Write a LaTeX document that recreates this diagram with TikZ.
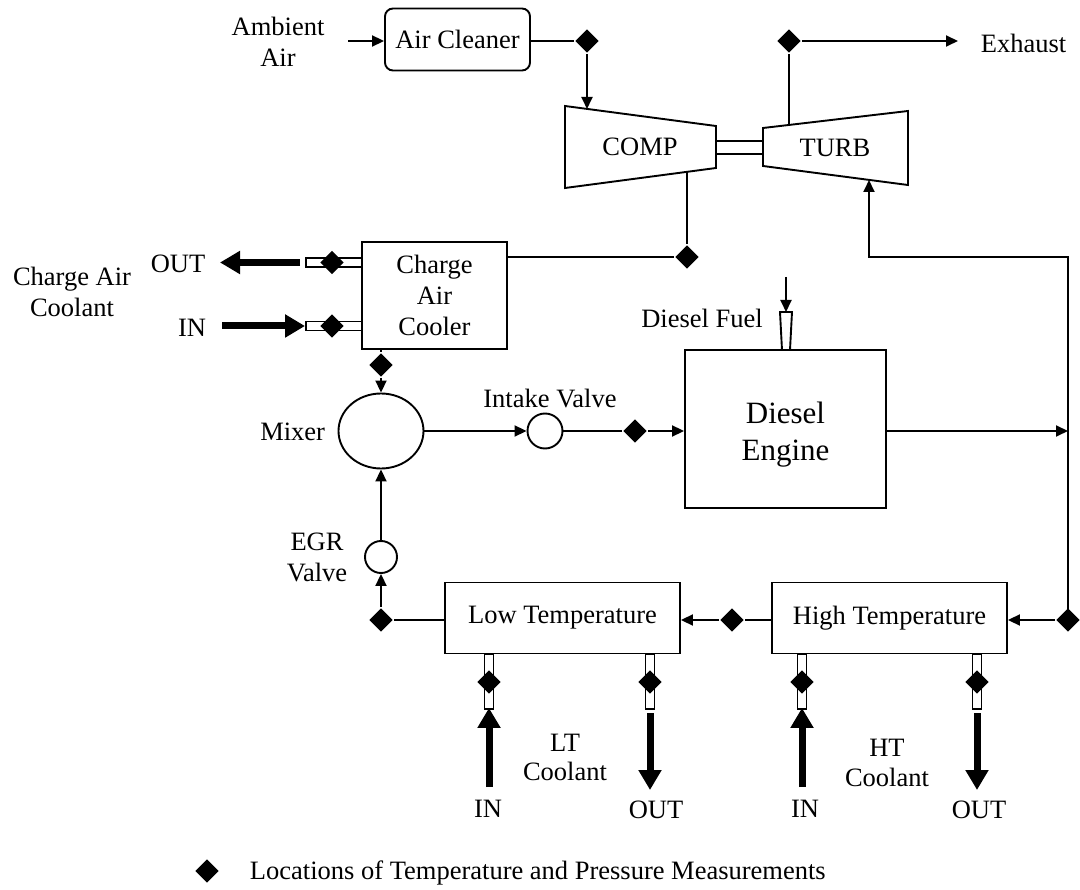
\documentclass[tikz,border=0pt]{standalone}
\usepackage{fontspec}
\setmainfont{Liberation Serif}
\usetikzlibrary{arrows.meta,shapes.geometric}
\begin{document}
\begin{tikzpicture}[x=1pt,y=-1pt,line width=1.9pt,
  lbl/.style={font=\fontsize{26.5}{31}\selectfont, align=center, inner sep=0pt},
  blk/.style={draw, inner sep=0pt, font=\fontsize{26.5}{31}\selectfont, align=center},
  meas/.style={diamond, fill=black, draw=none, inner sep=0pt, minimum size=24pt},
  flow/.style={-{Triangle[length=12pt,width=11pt]}},
  thickarrow/.style={line width=7pt, -{Triangle[length=20pt,width=22pt]}},
  hport/.style={draw, fill=white, minimum width=56pt, minimum height=9pt, inner sep=0pt},
  vport/.style={draw, fill=white, minimum width=9pt, minimum height=55pt, inner sep=0pt},
  valve/.style={circle, draw, inner sep=0pt}
]
\useasboundingbox (0,0) rectangle (1080,890);

% ---- air intake ----
\node[lbl] (amb) at (278,42) {Ambient\\Air};
\node[blk, rounded corners=8pt, minimum width=145pt, minimum height=62pt] (cleaner) at (457.5,39.5) {Air Cleaner};
\coordinate (ambIn) at (348,41);
\draw[flow] (ambIn) -- (ambIn -| cleaner.west);
\node[meas] (d1) at (587,41) {};
\draw (cleaner.east |- d1) -- (d1);
\coordinate (compIn) at (587,109);
\draw[flow] (d1) -- (compIn);

% ---- turbocharger ----
\draw (565,106) -- (716,126) -- (716,168) -- (565,188) -- cycle;
\node[lbl] (comp) at (640,147) {COMP};
\draw (763,128) -- (908,111) -- (908,185) -- (763,166) -- cycle;
\node[lbl] (turb) at (835,148) {TURB};
\draw (716,141) -- (763,141) (716,154) -- (763,154);

% turbine outlet
\coordinate (turbOut) at (789,125);
\node[meas] (d2) at (789,41) {};
\draw (turbOut) -- (d2);
\coordinate (exhEnd) at (958,41);
\draw[flow] (d2) -- (exhEnd);
\node[lbl, anchor=west] (exh) at (980,43) {Exhaust};

% ---- charge air cooler ----
\node[blk, minimum width=145pt, minimum height=107pt] (cac) at (434.5,295.5) {Charge\\Air\\Cooler};
\coordinate (compOut) at (687,172);
\node[meas] (d3) at (687,257) {};
\draw (compOut) -- (d3);
\draw (d3) -- (cac.east |- d3);

\node[hport] (pOut) at (334,262.5) {};
\node[hport] (pIn) at (334,326) {};
\node[meas] (d4) at (332,262.5) {};
\node[meas] (d5) at (332,326) {};
\coordinate (cOutS) at (300,262.5);
\coordinate (cOutE) at (220,262.5);
\draw[thickarrow] (cOutS) -- (cOutE);
\coordinate (cInS) at (222,326);
\draw[thickarrow] (cInS) -- (pIn.west);
\node[lbl] (outL) at (178,264) {OUT};
\node[lbl] (inL) at (192,328) {IN};
\node[lbl] (cacL) at (72,292) {Charge Air\\Coolant};

% ---- mixer and intake ----
\node[ellipse, draw, minimum width=85pt, minimum height=75pt, inner sep=0pt] (mixer) at (381,431) {};
\node[lbl, anchor=east] (mixL) at (326,432) {Mixer};
\node[meas] (d6) at (381,365) {};
\draw (cac.south -| d6) -- (d6);
\draw[flow] (d6) -- (mixer.north);

\node[valve, minimum size=35pt] (iv) at (545,431) {};
\node[lbl] (ivL) at (550,399) {Intake Valve};
\draw[flow] (mixer.east) -- (iv.west);
\node[meas] (d7) at (635,431) {};
\draw (iv.east) -- (d7);

% ---- engine ----
\node[blk, minimum width=201pt, minimum height=158pt] (eng) at (785.5,429) {};
\node[font=\fontsize{31}{37}\selectfont, align=center, inner sep=0pt] (engL) at (785.5,435) {Diesel\\Engine};
\draw[flow] (d7) -- (d7 -| eng.west);

\draw (780,312) -- (792,312) -- (790,350) -- (782,350) -- cycle;
\coordinate (inj) at (786,312);
\coordinate (fuelIn) at (786,277);
\draw[flow] (fuelIn) -- (inj);
\node[lbl] (fuelL) at (702,318) {Diesel Fuel};

% ---- exhaust loop ----
\coordinate (rj) at (1068,431);
\draw[flow] (eng.east |- rj) -- (rj);
\node[meas] (d8) at (1068,620) {};
\coordinate (rt) at (1068,257);
\coordinate (tb) at (869,257);
\coordinate (turbIn) at (869,180);
\draw[flow] (d8.center) -- (rt) -- (tb) -- (turbIn);

% ---- EGR coolers ----
\node[blk, minimum width=235pt, minimum height=71pt] (lt) at (562.5,618) {Low Temperature};
\node[blk, minimum width=235pt, minimum height=71pt] (ht) at (889.5,618) {High Temperature};
\node[meas] (d9) at (732,620) {};
\draw (ht.west |- d9) -- (d9);
\draw[flow] (d9) -- (lt.east |- d9);
\draw[flow] (d8) -- (ht.east |- d8);

\node[meas] (d10) at (381,620) {};
\draw (lt.west |- d10) -- (d10);
\node[valve, minimum size=32pt] (egr) at (381,557) {};
\draw[flow] (d10) -- (egr.south);
\draw[flow] (egr.north) -- (mixer.south);
\node[lbl] (egrL) at (317,557) {EGR\\Valve};

% ---- coolant ports ----
\node[vport] (pLTin) at (489,681.5) {};
\node[vport] (pLTout) at (650,681.5) {};
\node[vport] (pHTin) at (802,681.5) {};
\node[vport] (pHTout) at (977,681.5) {};
\node[meas] (dLTin) at (489,682) {};
\node[meas] (dLTout) at (650,682) {};
\node[meas] (dHTin) at (802,682) {};
\node[meas] (dHTout) at (977,682) {};

\coordinate (aLTin) at (489,787);
\coordinate (aHTin) at (802,787);
\draw[thickarrow] (aLTin) -- ([yshift=2pt]pLTin.south);
\draw[thickarrow] (aHTin) -- ([yshift=2pt]pHTin.south);
\coordinate (aLTo1) at (650,713);
\coordinate (aLTo2) at (650,790);
\coordinate (aHTo1) at (977,713);
\coordinate (aHTo2) at (977,790);
\draw[thickarrow] (aLTo1) -- (aLTo2);
\draw[thickarrow] (aHTo1) -- (aHTo2);

\node[lbl] (inLT) at (488,809) {IN};
\node[lbl] (outLT) at (656,810) {OUT};
\node[lbl] (inHT) at (805,809) {IN};
\node[lbl] (outHT) at (979,810) {OUT};
\node[font=\fontsize{26.5}{29}\selectfont, align=center, inner sep=0pt] (ltL) at (565,757) {LT\\Coolant};
\node[font=\fontsize{26.5}{30}\selectfont, align=center, inner sep=0pt] (htL) at (887,763) {HT\\Coolant};

% ---- legend ----
\node[meas] (leg) at (207,871) {};
\node[lbl, anchor=west] (legL) at (249,873) {Locations of Temperature and Pressure Measurements};
\end{tikzpicture}
\end{document}
